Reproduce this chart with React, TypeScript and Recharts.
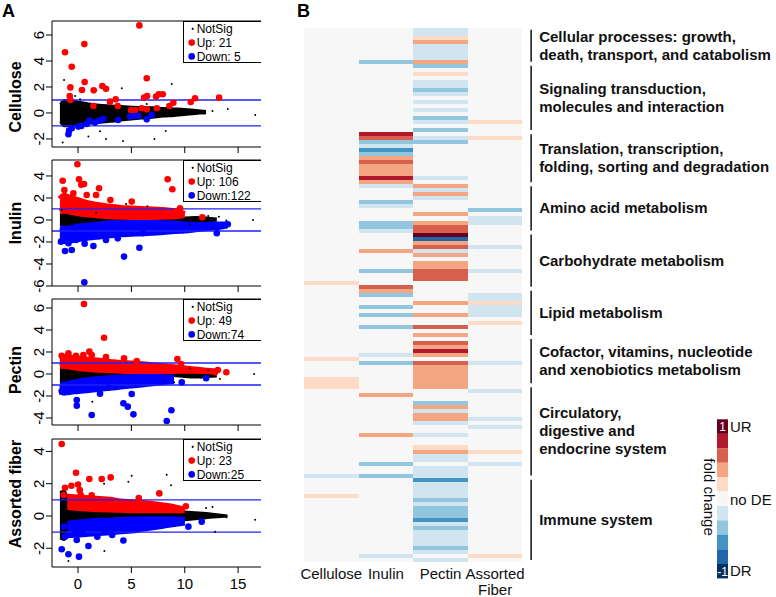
import React from 'react';
import { ComposedChart, Area, Scatter, XAxis, YAxis, ReferenceLine, Legend, BarChart, Bar } from 'recharts';

const FONT = '"Liberation Sans", Arial, Helvetica, sans-serif';

// ---------- Panel A: MA plots ----------
const panelNames = ['Cellulose', 'Inulin', 'Pectin', 'Assorted fiber'];
const upLabels = ['Up: 21', 'Up: 106', 'Up: 49', 'Up: 23'];
const downLabels = ['Down: 5', 'Down:122', 'Down:74', 'Down:25'];
const xTicks = [0, 5, 10, 15];
const yTicks = [[-2, 0, 2, 4, 6], [-6, -4, -2, 0, 2, 4], [-4, -2, 0, 2, 4, 6], [-2, 0, 2, 4]];
const yDomains = [[-2.62, 7.08], [-6.0, 5.45], [-4.64, 6.82], [-3.16, 4.77]];

// envelope of the dense point clouds, sampled on a shared x grid
const bandX = [-1.7, -1.3, -1, 0, 1, 2, 3, 4, 5, 6, 7, 8, 9, 10, 11, 12, 13, 14];

const celluloseBlackHi = [0.7, 1.0, 1.0, 0.9, 0.75, 0.65, 0.6, 0.55, 0.5, 0.48, 0.45, 0.4, 0.37, 0.33, 0.25, 0.18, null, null];
const celluloseBlackLo = [-0.7, -1.05, -1.05, -0.95, -0.85, -0.78, -0.7, -0.6, -0.52, -0.45, -0.38, -0.3, -0.25, -0.18, -0.1, -0.05, null, null];

const inulinBlackHi = [0.5, 0.65, 0.6, 0.4, 0.3, 0.2, 0.15, 0.12, 0.1, 0.1, 0.1, 0.12, 0.15, 0.25, 0.3, 0.25, 0.15, null];
const inulinBlackLo = [-0.5, -0.6, -0.6, -0.45, -0.3, -0.2, -0.15, -0.12, -0.1, -0.1, -0.1, -0.12, -0.15, -0.2, -0.2, -0.15, -0.1, null];
const inulinRedHi = [1.9, 2.2, 2.1, 1.8, 1.5, 1.35, 1.2, 1.1, 1.05, 1.0, 0.95, 0.9, 0.8, 0.55, null, null, null, null];
const inulinRedLo = [0.75, 0.85, 0.8, 0.6, 0.5, 0.4, 0.33, 0.3, 0.28, 0.28, 0.28, 0.3, 0.33, 0.45, null, null, null, null];
const inulinBlueHi = [-0.75, -0.8, -0.8, -0.6, -0.5, -0.4, -0.33, -0.3, -0.28, -0.28, -0.28, -0.3, -0.33, -0.4, -0.45, -0.45, -0.4, -0.4];
const inulinBlueLo = [-1.7, -1.9, -1.9, -1.75, -1.6, -1.5, -1.4, -1.3, -1.25, -1.2, -1.15, -1.1, -1.0, -0.95, -0.85, -0.75, -0.65, -0.5];

const pectinBlackHi = [0.55, 0.6, 0.55, 0.4, 0.3, 0.22, 0.18, 0.15, 0.12, 0.1, 0.1, 0.1, 0.12, 0.15, 0.2, 0.2, 0.15, null];
const pectinBlackLo = [-0.75, -0.8, -0.7, -0.5, -0.35, -0.28, -0.22, -0.18, -0.15, -0.12, -0.12, -0.15, -0.2, -0.3, -0.35, -0.3, -0.25, null];
const pectinRedHi = [1.45, 1.55, 1.5, 1.4, 1.3, 1.2, 1.1, 1.0, 0.95, 0.88, 0.8, 0.7, 0.62, 0.5, 0.4, 0.3, 0.2, null];
const pectinRedLo = [0.7, 0.75, 0.7, 0.55, 0.45, 0.38, 0.33, 0.3, 0.27, 0.25, 0.25, 0.25, 0.27, 0.3, 0.3, 0.28, 0.2, null];
const pectinBlueHi = [-0.95, -1.0, -0.9, -0.7, -0.55, -0.45, -0.38, -0.33, -0.3, -0.28, -0.28, -0.3, -0.35, null, null, null, null, null];
const pectinBlueLo = [-1.6, -1.7, -1.65, -1.55, -1.45, -1.35, -1.25, -1.15, -1.05, -0.95, -0.85, -0.75, -0.65, null, null, null, null, null];

const assortedBlackHi = [1.5, 1.6, 1.3, 0.9, 0.75, 0.65, 0.58, 0.52, 0.48, 0.44, 0.4, 0.37, 0.33, 0.3, 0.25, 0.2, 0.12, 0.05];
const assortedBlackLo = [-1.4, -1.5, -1.35, -1.05, -0.9, -0.8, -0.7, -0.62, -0.55, -0.48, -0.42, -0.38, -0.33, -0.28, -0.22, -0.15, -0.1, -0.05];
const assortedRedHi = [null, null, 1.2, 1.15, 1.1, 1.05, 1.0, 0.9, 0.85, 0.8, 0.75, 0.65, 0.55, 0.4, null, null, null, null];
const assortedRedLo = [null, null, 0.55, 0.5, 0.45, 0.42, 0.4, 0.38, 0.36, 0.35, 0.35, 0.35, 0.35, 0.35, null, null, null, null];
const assortedBlueHi = [null, null, -0.5, -0.4, -0.35, -0.3, -0.28, -0.25, -0.22, -0.2, -0.2, -0.2, -0.2, -0.25, null, null, null, null];
const assortedBlueLo = [null, null, -1.2, -1.15, -1.1, -1.05, -1.0, -0.95, -0.9, -0.8, -0.7, -0.6, -0.5, -0.4, null, null, null, null];

// individual points [A, M]
const celluloseUp = [[-1.22, 4.67], [0.59, 5.3], [-0.59, 3.56], [5.75, 6.74], [0.62, 2.38], [-0.72, 1.97], [0.37, 1.77], [1.47, 1.74], [2.28, 2.08], [2.62, 1.87], [6.44, 2.67], [-0.78, 1.31], [-0.72, 1.0], [3.0, 0.87], [3.53, 1.05], [1.44, 0.54], [3.72, 0.54], [6.19, 1.18], [6.47, 1.31], [7.31, 1.26], [7.56, 1.44], [7.94, 1.44], [8.93, 0.79], [8.56, 0.54], [4.97, 0.23], [5.34, 0.23], [5.97, 0.36], [6.44, 0.28], [7.38, 0.36], [10.56, 0.85], [10.97, 1.13], [13.22, 1.18]];
const celluloseDown = [[-0.84, -1.36], [-0.9, -1.64], [-0.59, -1.18], [0.31, -1.0], [0.81, -0.85], [1.06, -0.59], [1.59, -0.74], [1.97, -0.59], [2.37, -0.46], [3.75, -0.54], [4.87, -0.28], [5.3, -0.23], [5.66, -0.23], [6.44, -0.49], [6.91, -0.15], [0.03, -1.05]];
const celluloseOther = [[-1.31, 2.54], [-1.44, -2.28], [0.19, 1.05], [-0.28, 1.3], [0.97, -1.82], [2.62, -2.0], [4.1, 1.9], [4.22, -2.15], [7.16, -2.0], [8.78, 2.23], [8.22, -1.38], [10.81, 1.0], [14.03, 0.3], [16.6, -0.15], [11.81, -0.05], [2.06, -1.4], [6.44, 0.69], [12.6, 0.15]];

const inulinUp = [[-0.06, 5.06], [-1.44, 3.57], [-1.28, 2.73], [0.09, 3.7], [0.56, 3.27], [0.3, 3.2], [1.97, 2.88], [8.4, 3.7], [8.84, 2.79], [1.69, 2.27], [3.03, 1.82], [5.03, 1.67], [-0.44, 2.42], [0.81, 2.27], [9.56, 1.06], [11.65, 0.24], [9.25, 0.82]];
const inulinDown = [[0.59, -5.67], [4.31, -3.33], [5.75, -2.52], [-1.22, -2.82], [-0.59, -2.73], [-0.9, -2.12], [-1.6, -1.97], [0.62, -2.15], [1.44, -2.36], [2.62, -1.82], [3.72, -1.67], [13.0, -1.21], [14.03, -0.39], [12.5, -0.55], [0.12, -1.67], [6.06, -1.21], [-0.2, -1.82]];
const inulinOther = [[16.4, 0], [13.2, 0.3], [13.9, -0.05], [12.2, 0.35], [-1.5, 0.9], [6.5, 1.25], [4.5, 1.45], [11.0, 0.25], [10.5, -0.4], [1.7, 0.65]];

const pectinUp = [[0.56, 6.36], [2.44, 3.3], [-1.53, 1.66], [-0.9, 1.87], [-0.19, 1.66], [0.5, 1.72], [1.06, 2.03], [1.28, 1.72], [2.62, 1.53], [4.31, 1.42], [5.5, 1.18], [9.31, 1.36], [13.1, 0.36], [13.9, 0.16], [12.84, 0.16], [9.66, 0.9]];
const pectinDown = [[-0.12, -2.36], [-0.12, -2.88], [1.28, -3.73], [5.03, -1.82], [4.25, -2.67], [4.66, -2.97], [5.19, -3.67], [8.31, -4.27], [8.75, -3.3], [12.0, -0.39], [9.72, -0.76], [-1.53, -1.55], [-0.9, -1.64], [2.06, -1.79], [2.84, -1.24]];
const pectinOther = [[16.5, 0], [12.6, -0.1], [13.3, -0.45], [11.5, -0.35], [1.34, -2.52], [9.0, -0.75], [12.2, 0.35], [10.5, 0.5], [-1.6, -1.3]];

const assortedUp = [[-1.53, 4.46], [-0.19, 2.68], [-1.22, 1.75], [-0.62, 1.87], [0, 1.95], [-1.34, 1.3], [0.16, 1.6], [1.06, 2.29], [2.22, 2.29], [3.06, 2.39], [7.62, 1.4], [0.25, 1.3], [10.1, 0.6], [9.5, 0.35], [5.69, 1.11], [1.28, 1.28]];
const assortedDown = [[-1.53, -2.06], [-0.9, -2.37], [0.09, -2.52], [-1.22, -1.28], [-0.12, -1.48], [0.97, -1.86], [-1.34, -0.66], [-0.25, -0.93], [1.81, -1.28], [4.25, -1.52], [10.34, -0.66], [11.59, -0.35], [3.2, -1.18], [2.56, -0.97], [0.38, -0.97]];
const assortedOther = [[-0.9, -2.79], [2.47, -2.17], [4.72, 2.12], [5.03, 2.5], [8.31, 2.56], [8.72, 1.91], [12.84, -0.97], [16.6, -0.23], [13.9, -0.08], [12.0, 0.5], [12.6, 0.56], [2.44, 2.0]];

const blackHi = [celluloseBlackHi, inulinBlackHi, pectinBlackHi, assortedBlackHi];
const blackLo = [celluloseBlackLo, inulinBlackLo, pectinBlackLo, assortedBlackLo];
const redHi = [null, inulinRedHi, pectinRedHi, assortedRedHi];
const redLo = [null, inulinRedLo, pectinRedLo, assortedRedLo];
const blueHi = [null, inulinBlueHi, pectinBlueHi, assortedBlueHi];
const blueLo = [null, inulinBlueLo, pectinBlueLo, assortedBlueLo];
const upPoints = [celluloseUp, inulinUp, pectinUp, assortedUp];
const downPoints = [celluloseDown, inulinDown, pectinDown, assortedDown];
const otherPoints = [celluloseOther, inulinOther, pectinOther, assortedOther];

// ---------- Panel B: heatmap ----------
const rowCount = 133;
const columnLabels = [['Cellulose'], ['Inulin'], ['Pectin'], ['Assorted', 'Fiber']];
// RdBu, level -5 .. +5
const levelColors = ['#053061', '#2166ac', '#4393c3', '#92c5de', '#d1e5f0', '#f7f7f7', '#fddbc7', '#f4a582', '#d6604d', '#b2182b', '#67001f'];
// [firstRow, lastRow, level]
const celluloseSegs = [[63, 63, 1], [82, 82, 1], [87, 89, 1], [111, 111, -1], [116, 116, 1]];
const inulinSegs = [[8, 8, -2], [26, 26, 4], [27, 27, 3], [28, 28, -2], [29, 29, -1], [30, 30, -3], [31, 31, -2], [32, 32, 2], [33, 33, 3], [34, 36, 2], [37, 37, 4], [38, 38, 2], [39, 39, -1], [43, 43, -2], [44, 44, -1], [48, 49, -2], [50, 50, -1], [55, 55, 2], [60, 60, -2], [64, 64, 3], [65, 65, 2], [66, 66, -2], [69, 69, -2], [71, 71, -2], [74, 74, -2], [81, 81, -1], [83, 83, -2], [91, 91, 2], [101, 101, 2], [108, 108, -2], [111, 111, -2], [131, 131, -1]];
const pectinSegs = [[0, 1, -1], [2, 2, 1], [3, 3, 2], [4, 7, -1], [8, 8, 2], [9, 9, -2], [11, 11, 1], [13, 14, -1], [15, 15, -2], [16, 16, -1], [18, 18, -1], [20, 20, -1], [22, 22, -2], [23, 23, -1], [25, 25, -2], [27, 27, -1], [28, 28, -2], [37, 37, -1], [39, 39, 2], [40, 40, -1], [41, 41, 2], [42, 42, -1], [46, 46, 2], [48, 48, 2], [49, 50, 3], [51, 51, 5], [52, 52, -4], [53, 53, 2], [54, 54, 3], [55, 55, -1], [56, 56, 2], [58, 59, 2], [60, 62, 3], [68, 68, 2], [71, 71, 2], [74, 74, 3], [76, 76, 2], [78, 78, 3], [79, 79, 2], [80, 80, 4], [81, 81, 2], [83, 83, 3], [84, 89, 2], [93, 93, -2], [94, 94, 2], [95, 95, -1], [96, 97, 2], [98, 98, -1], [101, 101, -1], [104, 104, 1], [105, 105, 2], [106, 107, -1], [109, 111, -1], [112, 112, -3], [113, 116, -1], [117, 117, -2], [118, 118, -1], [119, 121, -2], [122, 122, -3], [123, 123, -1], [124, 124, -2], [125, 128, -1], [129, 129, -2], [130, 130, -1], [132, 132, -1]];
const assortedSegs = [[23, 23, 1], [27, 27, 1], [45, 45, -2], [47, 48, -1], [54, 54, -1], [60, 60, -1], [66, 67, -1], [68, 68, 1], [69, 71, -1], [73, 73, 1], [83, 83, -1], [90, 90, -1], [97, 97, -1], [99, 99, -1], [105, 105, 1], [108, 108, -1], [131, 131, 1]];
const heatSegments = [celluloseSegs, inulinSegs, pectinSegs, assortedSegs];

const groupFirst = [0, 9, 26, 39, 51, 65, 77, 89, 112];
const groupLast = [8, 25, 38, 50, 64, 76, 88, 111, 132];
const groupLabels = [
  ['Cellular processes: growth,', 'death, transport, and catabolism'],
  ['Signaling transduction,', 'molecules and interaction'],
  ['Translation, transcription,', 'folding, sorting and degradation'],
  ['Amino acid metabolism'],
  ['Carbohydrate metabolism'],
  ['Lipid metabolism'],
  ['Cofactor, vitamins, nucleotide', 'and xenobiotics metabolism'],
  ['Circulatory,', 'digestive and', 'endocrine system'],
  ['Immune system'],
];

// ---------- layout ----------
const plotTops = [21, 160, 299, 439];
const plotHeights = [126, 126, 126, 128];
const titleCenters = [97, 223, 370, 494];

const heatRows = Array.from({ length: rowCount }, (_, r) => {
  const lv = heatSegments.map((segs) => {
    const s = segs.find(([a, b]) => r >= a && r <= b);
    return s ? s[2] : 0;
  });
  return { row: r, c0: 1, c1: 1, c2: 1, c3: 1, lv };
});

function bandData(i: number) {
  return bandX.map((x, k) => {
    const d: any = { x };
    d.black = blackHi[i][k] == null ? null : [blackLo[i][k], blackHi[i][k]];
    if (redHi[i]) d.red = redHi[i]![k] == null ? null : [redLo[i]![k], redHi[i]![k]];
    if (blueHi[i]) d.blue = blueHi[i]![k] == null ? null : [blueLo[i]![k], blueHi[i]![k]];
    return d;
  });
}

const toPts = (arr: number[][]) => arr.map(([x, y]) => ({ x, y }));

function MALegend({ i }: { i: number }) {
  return (
    <div style={{ width: 90, height: 42, border: '1px solid #000', background: '#fff', boxSizing: 'border-box' }}>
      <svg width={90} height={40} style={{ overflow: 'visible', display: 'block' }} fontFamily={FONT} fontSize={12}>
        <circle cx={8.7} cy={6.8} r={1.1} fill="#000" />
        <text x={12.7} y={11} fill="#000">NotSig</text>
        <circle cx={7.7} cy={20.6} r={3.3} fill="#ff0000" />
        <text x={12.7} y={24.8} fill="#000">{upLabels[i]}</text>
        <circle cx={7.7} cy={34.4} r={3.3} fill="#0000ff" />
        <text x={12.7} y={38.6} fill="#000">{downLabels[i]}</text>
      </svg>
    </div>
  );
}

function MAPlot({ i }: { i: number }) {
  const showX = i === 3;
  const data = bandData(i);
  const dot = (fill: string, r: number) => (p: any) => <circle cx={p.cx} cy={p.cy} r={r} fill={fill} />;
  return (
    <ComposedChart width={270} height={1 + plotHeights[i] + 28} data={data} margin={{ top: 1, right: 0, bottom: 0, left: 0 }}>
      <XAxis
        dataKey="x"
        type="number"
        domain={[-2.44, 17.99]}
        allowDataOverflow
        ticks={xTicks}
        interval={0}
        height={28}
        tickSize={6}
        axisLine={{ stroke: '#000' }}
        tickLine={{ stroke: '#000' }}
        tick={(p: any) =>
          showX ? (
            <text x={p.x} y={p.y + 14} textAnchor="middle" fontSize={15} fontFamily={FONT} fill="#000">
              {p.payload.value}
            </text>
          ) : (
            <g />
          )
        }
      />
      <YAxis
        type="number"
        domain={yDomains[i]}
        allowDataOverflow
        ticks={yTicks[i]}
        interval={0}
        width={52}
        tickSize={6}
        axisLine={{ stroke: '#000' }}
        tickLine={{ stroke: '#000' }}
        tick={(p: any) => (
          <text x={p.x} y={p.y} transform={`rotate(-90 ${p.x} ${p.y})`} textAnchor="middle" fontSize={15} fontFamily={FONT} fill="#000">
            {p.payload.value}
          </text>
        )}
      />
      <Area dataKey="black" type="monotone" fill="#000" fillOpacity={1} stroke="#000" strokeWidth={1.5} dot={false} activeDot={false} isAnimationActive={false} />
      {redHi[i] && (
        <Area dataKey="red" type="monotone" fill="#ff0000" fillOpacity={1} stroke="#ff0000" strokeWidth={6} strokeLinejoin="round" dot={false} activeDot={false} isAnimationActive={false} />
      )}
      {blueHi[i] && (
        <Area dataKey="blue" type="monotone" fill="#0000ff" fillOpacity={1} stroke="#0000ff" strokeWidth={6} strokeLinejoin="round" dot={false} activeDot={false} isAnimationActive={false} />
      )}
      <Scatter data={toPts(otherPoints[i])} dataKey="y" shape={dot('#000', 1)} isAnimationActive={false} />
      <Scatter data={toPts(upPoints[i])} dataKey="y" shape={dot('#ff0000', 3.3)} isAnimationActive={false} />
      <Scatter data={toPts(downPoints[i])} dataKey="y" shape={dot('#0000ff', 3.3)} isAnimationActive={false} />
      <ReferenceLine y={1} stroke="#2020ff" strokeWidth={1.3} />
      <ReferenceLine y={-1} stroke="#2020ff" strokeWidth={1.3} />
      <ReferenceLine y={yDomains[i][1]} stroke="#000" strokeWidth={1} />
      <Legend
        layout="vertical"
        align="center"
        verticalAlign="middle"
        wrapperStyle={{ left: 183, top: 1, width: 90, height: 42 }}
        content={() => <MALegend i={i} />}
      />
    </ComposedChart>
  );
}

function GroupLabel(props: any) {
  const { viewBox, lines } = props;
  if (!viewBox) return null;
  const mid = viewBox.y + viewBox.height / 2;
  const first = mid - (lines.length - 1) * 9 + 5;
  return (
    <text fontFamily={FONT} fontWeight={700} fontSize={15} fill="#111">
      {lines.map((l: string, k: number) => (
        <tspan key={k} x={viewBox.x + 8} y={first + k * 18}>
          {l}
        </tspan>
      ))}
    </text>
  );
}

function ColorKey() {
  const boxes = levelColors.slice().reverse();
  return (
    <svg width={76} height={175} fontFamily={FONT} style={{ display: 'block', overflow: 'visible' }}>
      {boxes.map((c, k) => (
        <rect key={k} x={17} y={9.3 + k * 14.45} width={11} height={14.6} fill={c} />
      ))}
      <text x={22.5} y={20.5} textAnchor="middle" fontSize={12} fill="#fff">1</text>
      <text x={22.5} y={165.5} textAnchor="middle" fontSize={12} fill="#fff">-1</text>
      <text x={30} y={21.5} fontSize={15} fill="#111">UR</text>
      <text x={30} y={95} fontSize={15} fill="#111">no DE</text>
      <text x={30} y={166} fontSize={15} fill="#111">DR</text>
      <text transform="translate(3.5 87) rotate(90)" textAnchor="middle" fontSize={15} fill="#111">fold change</text>
    </svg>
  );
}

function Heatmap() {
  return (
    <BarChart
      layout="vertical"
      width={492}
      height={570}
      data={heatRows}
      margin={{ top: 0.67, right: 0, bottom: 0, left: 20 }}
      barCategoryGap={0}
      barGap={0}
    >
      <XAxis
        type="number"
        domain={[0, 8.645]}
        allowDataOverflow
        ticks={[0.5, 1.5, 2.5, 3.5]}
        interval={0}
        height={35}
        tickSize={0}
        tickMargin={0}
        axisLine={false}
        tickLine={false}
        tick={(p: any) => {
          const lines = columnLabels[Math.floor(p.payload.value)];
          return (
            <text textAnchor="middle" fontSize={15} fontFamily={FONT} fill="#111">
              {lines.map((l, k) => (
                <tspan key={k} x={p.x} y={p.y + 17 + k * 15.5}>
                  {l}
                </tspan>
              ))}
            </text>
          );
        }}
      />
      <YAxis type="category" dataKey="row" hide width={0} />
      {[0, 1, 2, 3].map((j) => (
        <Bar
          key={j}
          dataKey={`c${j}`}
          stackId="h"
          isAnimationActive={false}
          shape={(p: any) => (
            <rect
              x={p.x}
              y={p.y}
              width={p.width}
              height={p.height + (p.payload.row < rowCount - 1 ? 1 : 0)}
              fill={levelColors[p.payload.lv[j] + 5]}
              shapeRendering="crispEdges"
            />
          )}
        />
      ))}
      {groupFirst.map((g, k) => (
        <ReferenceLine
          key={k}
          segment={[{ x: 4.16, y: g }, { x: 4.16, y: groupLast[k] }]}
          stroke="#111"
          strokeWidth={1.5}
          label={(lp: any) => <GroupLabel {...lp} lines={groupLabels[k]} />}
        />
      ))}
      <Legend
        layout="vertical"
        align="center"
        verticalAlign="middle"
        wrapperStyle={{ left: 416, top: 383, width: 76, height: 175 }}
        content={() => <ColorKey />}
      />
    </BarChart>
  );
}

export default function App() {
  return (
    <div style={{ position: 'absolute', left: 0, top: 0, width: 776, height: 597, background: '#fff', overflow: 'hidden', fontFamily: FONT }}>
      <div style={{ position: 'absolute', left: 2, top: 1, fontSize: 18, fontWeight: 700 }}>A</div>
      <div style={{ position: 'absolute', left: 297, top: 1, fontSize: 18, fontWeight: 700 }}>B</div>
      {panelNames.map((name, i) => (
        <React.Fragment key={name}>
          <div style={{ position: 'absolute', left: 0, top: plotTops[i] - 1, width: 261, height: plotHeights[i] + 29, overflow: 'hidden' }}>
            <MAPlot i={i} />
          </div>
          <div
            style={{
              position: 'absolute',
              left: 16,
              top: titleCenters[i],
              transform: 'translate(-50%, -50%) rotate(-90deg)',
              whiteSpace: 'nowrap',
              fontWeight: 700,
              fontSize: 16,
              color: '#000',
            }}
          >
            {name}
          </div>
        </React.Fragment>
      ))}
      <div style={{ position: 'absolute', left: 284, top: 27, width: 492, height: 570 }}>
        <Heatmap />
      </div>
    </div>
  );
}
